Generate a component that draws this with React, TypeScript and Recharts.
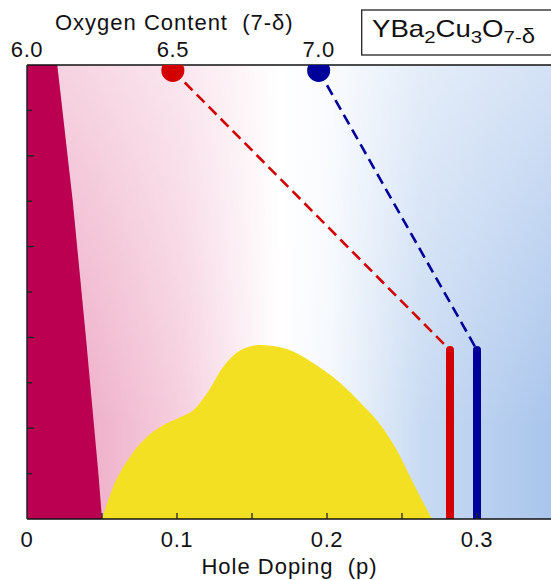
import { ComposedChart, Area, Line, Scatter, XAxis, YAxis, Label } from "recharts"

// axes
const pDomain: [number, number] = [0, 0.35]
const oxDomain: [number, number] = [6.0, 7.8]
const tDomain: [number, number] = [0, 10]

const pTicks = [0, 0.05, 0.1, 0.15, 0.2, 0.25, 0.3]
const pTickLabels = ["0", "", "0.1", "", "0.2", "", "0.3"]
const oxTicks = [6.0, 6.5, 7.0]
const tTicks = [0, 1, 2, 3, 4, 5, 6, 7, 8, 9, 10]

// antiferromagnetic region (left, dark magenta)
const afP = [0, 0.0202, 0.0305, 0.0393, 0.0476, 0.05]
const afT = [10, 10, 7, 4, 1, 0]

// superconducting dome (yellow)
const scP = [0.05, 0.0575, 0.0687, 0.08, 0.091, 0.102, 0.111, 0.12, 0.131, 0.142, 0.155, 0.164, 0.1775, 0.191, 0.209, 0.224, 0.235, 0.2465, 0.2575, 0.27]
const scT = [0, 0.71, 1.37, 1.81, 2.07, 2.24, 2.4, 2.77, 3.36, 3.71, 3.83, 3.81, 3.69, 3.43, 2.99, 2.5, 2.1, 1.52, 0.79, 0]

// the two samples: bulk oxygen content vs. surface doping
const sampleOx = [6.5, 7.0]
const sampleP = [0.282, 0.3]
const sampleTop = [3.72, 3.72]
const dotT = 9.88
const sampleColors = ["#d20000", "#00009a"]

const oxToP = (ox: number) =>
  pDomain[0] + ((ox - oxDomain[0]) / (oxDomain[1] - oxDomain[0])) * (pDomain[1] - pDomain[0])

const bg = [
  { p: pDomain[0], t: tDomain[1] },
  { p: pDomain[1], t: tDomain[1] },
]
const af = afP.map((p, i) => ({ p, t: afT[i] }))
const sc = scP.map((p, i) => ({ p, t: scT[i] }))

const BottomTick = (props: any) => {
  const { x, y, payload } = props
  const i = pTicks.indexOf(payload.value)
  return (
    <g>
      {i > 0 && <line x1={x} y1={y} x2={x} y2={y - 6} stroke="#222" strokeWidth={1.3} />}
      <text x={x} y={y + 28} textAnchor="middle" fontSize={22} letterSpacing={0.6} fill="#111">
        {pTickLabels[i]}
      </text>
    </g>
  )
}

const LeftTick = (props: any) => {
  const { x, y, payload } = props
  const v = payload.value
  if (v === tDomain[0] || v === tDomain[1]) return <g />
  const len = v % 2 === 0 ? 7 : 5
  return <line x1={x} y1={y} x2={x + len} y2={y} stroke="#222" strokeWidth={1.5} />
}

export default function App() {
  return (
    <div
      style={{
        position: "fixed",
        left: 0,
        top: 0,
        width: 551,
        height: 580,
        overflow: "hidden",
        background: "#fff",
        fontFamily: "'Liberation Sans', Arial, sans-serif",
      }}
    >
      <ComposedChart width={560} height={580} margin={{ top: 64, right: 8, bottom: 60, left: 26 }}>
        <defs>
          <linearGradient id="bgH" x1="0" y1="0" x2="1" y2="0">
            <stop offset="0" stopColor="#ec9fbf" />
            <stop offset="0.12" stopColor="#efb0c9" />
            <stop offset="0.3" stopColor="#f6d0df" />
            <stop offset="0.48" stopColor="#ffffff" />
            <stop offset="0.58" stopColor="#f4f8fd" />
            <stop offset="0.75" stopColor="#c9dbf3" />
            <stop offset="1" stopColor="#a9c5ec" />
          </linearGradient>
          <linearGradient id="bgV" x1="0" y1="0" x2="0" y2="1">
            <stop offset="0" stopColor="#ffffff" stopOpacity={0.5} />
            <stop offset="0.8" stopColor="#ffffff" stopOpacity={0} />
          </linearGradient>
        </defs>

        <Area data={bg} dataKey="t" type="linear" fill="url(#bgH)" fillOpacity={1} stroke="none" isAnimationActive={false} />
        <Area data={bg} dataKey="t" type="linear" fill="url(#bgV)" fillOpacity={1} stroke="none" isAnimationActive={false} />
        <Area data={af} dataKey="t" type="linear" fill="#bb0052" fillOpacity={1} stroke="none" isAnimationActive={false} />
        <Area data={sc} dataKey="t" type="monotone" fill="#f4e022" fillOpacity={1} stroke="none" isAnimationActive={false} />

        <XAxis
          dataKey="p"
          type="number"
          domain={pDomain}
          ticks={pTicks}
          interval={0}
          height={1}
          tickSize={0}
          tickMargin={0}
          tickLine={false}
          tick={<BottomTick />}
          axisLine={{ stroke: "#111", strokeWidth: 1.5 }}
          allowDataOverflow
        >
          <Label value={"Hole Doping\u00A0 (p)"} position="bottom" offset={38} fontSize={22} letterSpacing={1} fill="#111" />
        </XAxis>
        <XAxis
          xAxisId="ox"
          dataKey="ox"
          type="number"
          orientation="top"
          domain={oxDomain}
          ticks={oxTicks}
          interval={0}
          height={1}
          tickSize={0}
          tickMargin={8}
          tickLine={false}
          tick={{ fill: "#111", fontSize: 22, letterSpacing: 0.6 }}
          tickFormatter={(v: number) => v.toFixed(1)}
          axisLine={{ stroke: "#111", strokeWidth: 1.5 }}
          allowDataOverflow
        >
          <Label
            position="top"
            content={(props: any) => {
              const vb = props.viewBox || { x: 27, y: 64 }
              return (
                <text x={vb.x + 28} y={vb.y - 34} fontSize={22} letterSpacing={1} fill="#111">
                  {"Oxygen Content\u00A0 (7-δ)"}
                </text>
              )
            }}
          />
        </XAxis>
        <YAxis
          dataKey="t"
          type="number"
          domain={tDomain}
          ticks={tTicks}
          interval={0}
          width={1}
          tickSize={0}
          tickMargin={0}
          tickLine={false}
          tick={<LeftTick />}
          axisLine={{ stroke: "#222", strokeWidth: 1.5 }}
          allowDataOverflow
        />

        {sampleOx.map((ox, i) => (
          <Line
            key={"dash" + i}
            data={[
              { p: oxToP(ox), t: dotT },
              { p: sampleP[i], t: sampleTop[i] },
            ]}
            dataKey="t"
            type="linear"
            stroke={sampleColors[i]}
            strokeWidth={2.6}
            strokeDasharray="11 6"
            dot={false}
            activeDot={false}
            isAnimationActive={false}
          />
        ))}
        {sampleP.map((p, i) => (
          <Line
            key={"bar" + i}
            data={[
              { p, t: 0 },
              { p, t: sampleTop[i] },
            ]}
            dataKey="t"
            type="linear"
            stroke={sampleColors[i]}
            strokeWidth={8}
            strokeLinecap="round"
            dot={false}
            activeDot={false}
            isAnimationActive={false}
          />
        ))}
        {sampleOx.map((ox, i) => (
          <Scatter
            key={"dot" + i}
            xAxisId="ox"
            data={[{ ox, t: dotT }]}
            fill={sampleColors[i]}
            shape={(props: any) => <circle cx={props.cx} cy={props.cy} r={11.5} fill={sampleColors[i]} />}
            isAnimationActive={false}
          />
        ))}
      </ComposedChart>

      <svg width={200} height={60} style={{ position: "absolute", left: 361, top: 0 }}>
        <rect x={0.7} y={10} width={210} height={45} fill="#fff" stroke="#222" strokeWidth={1.3} />
        <text transform="translate(11,36.5) scale(1.2,1)" x={0} y={0} fontSize={23} fill="#111">
          YBa
          <tspan dy={6} fontSize={17}>2</tspan>
          <tspan dy={-6}>Cu</tspan>
          <tspan dy={6} fontSize={17}>3</tspan>
          <tspan dy={-6}>O</tspan>
          <tspan dy={6} fontSize={17}>7-</tspan>
          <tspan fontSize={20}>δ</tspan>
        </text>
      </svg>
    </div>
  )
}
